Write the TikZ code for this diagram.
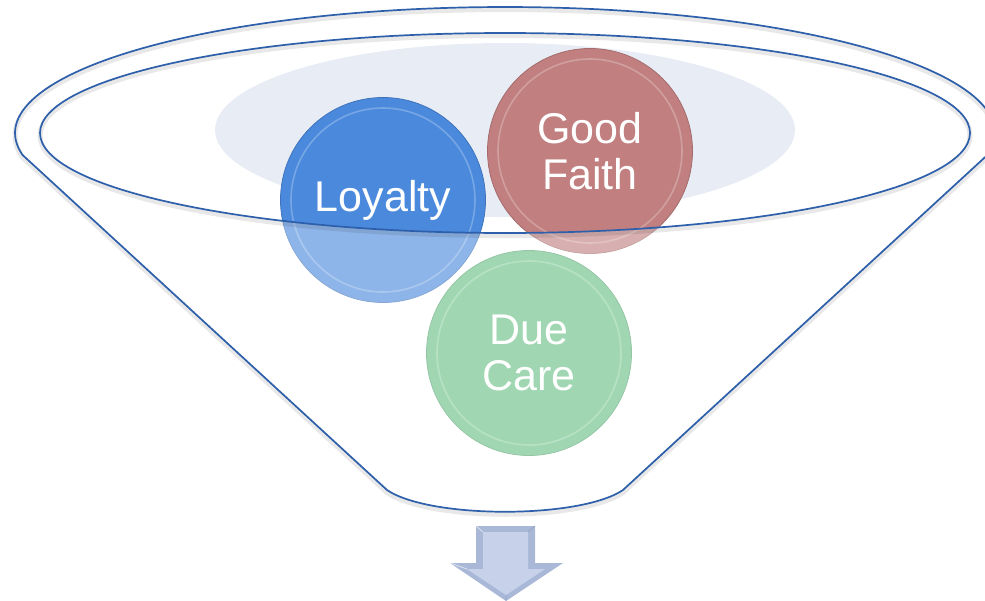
\documentclass[tikz,border=0pt]{standalone}
\usepackage{fontspec}
\setmainfont{Liberation Sans}
\definecolor{loyblue}{RGB}{74,137,220}
\definecolor{gfred}{RGB}{193,127,128}
\definecolor{dcgreen}{RGB}{102,192,132}
\definecolor{bgell}{RGB}{232,237,245}
\definecolor{lineblue}{RGB}{45,95,170}
\definecolor{arrowfill}{RGB}{199,209,234}
\definecolor{arrowdark}{RGB}{170,184,216}
\begin{document}
\begin{tikzpicture}[x=1pt,y=-1pt,
  ball/.style={circle, minimum size=205pt, inner sep=0pt, text=white,
    font=\fontsize{43}{46}\selectfont, align=center,
    fill=#1, draw=#1!85!black, line width=0.8pt},
  ring/.style={draw=white, draw opacity=0.25, line width=1.6pt},
  funline/.style={draw=lineblue, line width=1.7pt},
  funshadow/.style={draw=black, draw opacity=0.09, line width=5pt},
  fade/.style={fill=white, fill opacity=0.38}
]
\useasboundingbox (0,0) rectangle (985,600);
\clip (0,0) rectangle (985,600);

% light background ellipse
\fill[bgell] (505,130) ellipse [x radius=290, y radius=87];

% circles
\node[ball=loyblue] (loyalty) at (383,200) {Loyalty};
\node[ball=gfred] (goodfaith) at (590,151) {Good\\Faith};
\node[ball=dcgreen] (duecare) at (529,353) {Due\\Care};
\foreach \n in {loyalty,goodfaith,duecare}
  \draw[ring] (\n.center) circle (92);

% fade of the funnel body (below the rim)
\fill[fade, even odd rule]
  plot[domain=170:370, samples=120] ({505+490*cos(\x)},{133+126*sin(\x)})
  -- (623,490) .. controls (580,519) and (430,519) .. (387,490) -- cycle
  (505,133) ellipse [x radius=465, y radius=100];

% shadows of the funnel lines
\begin{scope}[yshift=-2.5pt]
\draw[funshadow]
  plot[domain=170:370, samples=120] ({505+490*cos(\x)},{133+126*sin(\x)})
  -- (623,490) .. controls (580,519) and (430,519) .. (387,490) -- cycle;
\draw[funshadow] (505,133) ellipse [x radius=465, y radius=100];
\end{scope}

% funnel lines
\draw[funline, line join=round]
  plot[domain=170:370, samples=120] ({505+490*cos(\x)},{133+126*sin(\x)})
  -- (623,490) .. controls (580,519) and (430,519) .. (387,490) -- cycle;
\draw[funline] (505,133) ellipse [x radius=465, y radius=100];

% down arrow
\fill[arrowdark] (476,526) -- (535,526) -- (535,563) -- (563,563) -- (506,601)
  -- (450,563) -- (476,563) -- cycle;
\fill[arrowfill] (483,532) -- (528,532) -- (528,569) -- (545,569) -- (506,595)
  -- (467,569) -- (483,569) -- cycle;
\draw[white, opacity=0.6, line width=0.8pt] (476,526) -- (483,532) (450,563) -- (467,569);
\draw[arrowdark!80!black, opacity=0.5, line width=0.8pt] (535,526) -- (528,532) (506,601) -- (506,595);
\end{tikzpicture}
\end{document}
